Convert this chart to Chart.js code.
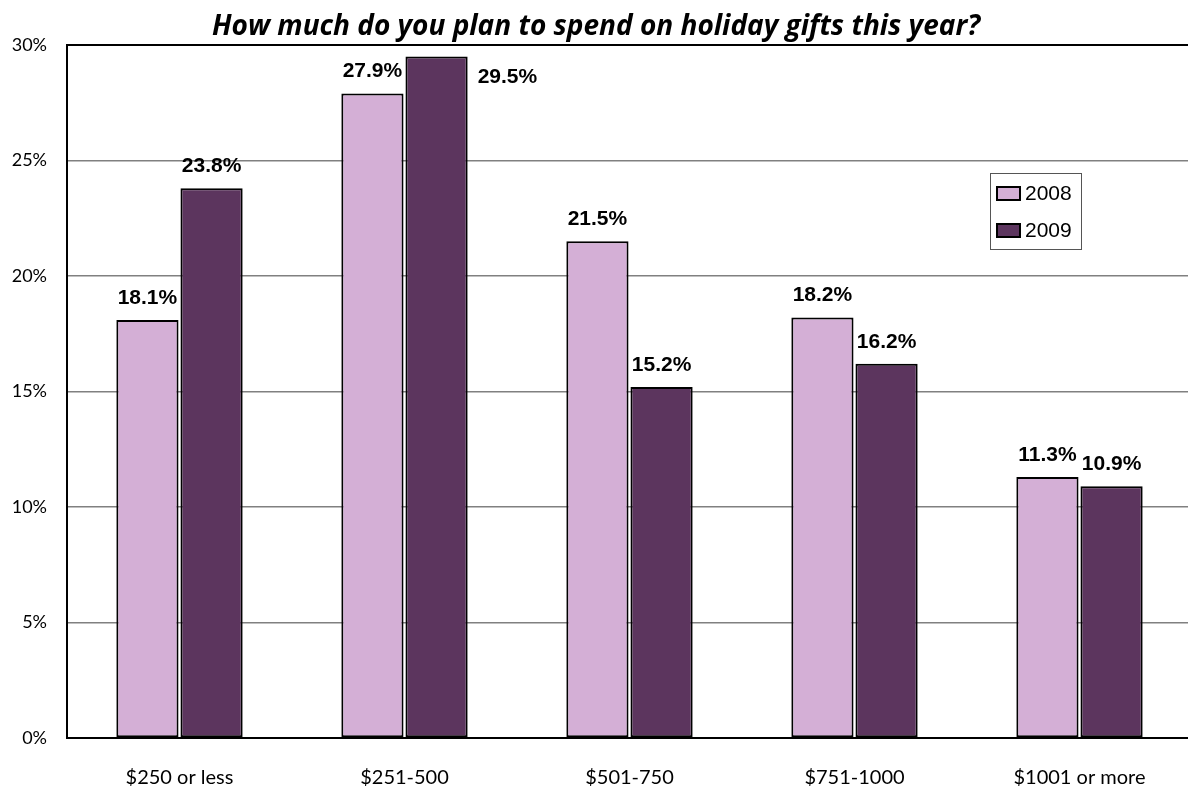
<!DOCTYPE html>
<html>
<head>
<meta charset="utf-8">
<script src="https://cdn.jsdelivr.net/npm/chart.js@4.4.0/dist/chart.umd.min.js"></script>
<style>
  html, body { margin: 0; padding: 0; background: #fff; overflow: hidden; }
  canvas { display: block; }
</style>
</head>
<body>
<canvas id="giftChart" width="1200" height="792"></canvas>
<script>
// spending brackets and survey shares (%)
var brackets = ["$250 or less", "$251-500", "$501-750", "$751-1000", "$1001 or more"];
var share2008 = [18.1, 27.9, 21.5, 18.2, 11.3];
var share2009 = [23.8, 29.5, 15.2, 16.2, 10.9];
var yTicks = [0, 5, 10, 15, 20, 25, 30];

var fillColors = ["#D4AFD6", "#5C355E"];

// value labels over each bar, pushed to the side when there's no room on top
var valueLabels = {
  id: "valueLabels",
  afterDatasetsDraw: function (chart) {
    var ctx = chart.ctx;
    var area = chart.chartArea;
    ctx.save();
    ctx.font = "bold 21px 'Liberation Sans', Arial, sans-serif";
    ctx.fillStyle = "#000";
    ctx.textBaseline = "middle";
    chart.data.datasets.forEach(function (ds, i) {
      var meta = chart.getDatasetMeta(i);
      meta.data.forEach(function (bar, j) {
        var txt = ds.data[j].toFixed(1) + "%";
        var y = bar.y - 22;
        if (y - 10 < area.top) {
          ctx.textAlign = "left";
          ctx.fillText(txt, bar.x + bar.width / 2 + 10, bar.y + 21);
        } else {
          ctx.textAlign = "center";
          ctx.fillText(txt, bar.x, y);
        }
      });
    });
    ctx.restore();
  }
};

// boxed legend inside the plot, right side
var boxLegend = {
  id: "boxLegend",
  afterDraw: function (chart) {
    var ctx = chart.ctx;
    var area = chart.chartArea;
    var left = area.right - 202, top = area.top + 128;
    ctx.save();
    ctx.fillStyle = "#fff";
    ctx.fillRect(left, top, 91, 76);
    ctx.strokeStyle = "#555";
    ctx.lineWidth = 1;
    ctx.strokeRect(left + 0.5, top + 0.5, 91, 76);
    ctx.font = "21px 'Liberation Sans', Arial, sans-serif";
    ctx.textBaseline = "middle";
    ctx.textAlign = "left";
    chart.data.datasets.forEach(function (ds, i) {
      var cy = top + 20 + i * 37;
      ctx.fillStyle = ds.backgroundColor;
      ctx.fillRect(left + 7, cy - 6, 23, 13);
      ctx.strokeStyle = "#000";
      ctx.lineWidth = 2;
      ctx.strokeRect(left + 7, cy - 6, 23, 13);
      ctx.fillStyle = "#000";
      ctx.fillText(ds.label, left + 35, cy + 1);
    });
    ctx.restore();
  }
};

new Chart("giftChart", {
  type: "bar",
  data: {
    labels: brackets,
    datasets: [
      {
        label: "2008",
        data: share2008,
        backgroundColor: fillColors[0],
        borderColor: "#000",
        borderWidth: 2,
        borderSkipped: false
      },
      {
        label: "2009",
        data: share2009,
        backgroundColor: fillColors[1],
        borderColor: "#000",
        borderWidth: 2,
        borderSkipped: false
      }
    ]
  },
  options: {
    responsive: false,
    animation: false,
    layout: { padding: { left: 0, right: 8, top: 0, bottom: 0 } },
    datasets: {
      bar: { categoryPercentage: 0.57, barPercentage: 0.97 }
    },
    plugins: {
      legend: { display: false },
      tooltip: { enabled: false },
      title: {
        display: true,
        text: "How much do you plan to spend on holiday gifts this year?",
        color: "#000",
        font: { family: "'Open Sans', Lato, sans-serif", size: 28, weight: "bold", style: "italic" },
        padding: { top: 10, bottom: 1.4 }
      }
    },
    scales: {
      x: {
        grid: { display: false, drawTicks: false },
        border: { display: true, color: "#000", width: 2 },
        ticks: {
          color: "#000",
          padding: 28,
          maxRotation: 0,
          font: { family: "Lato, 'Open Sans', sans-serif", size: 20 }
        },
        afterFit: function (scale) { scale.height = 54; }
      },
      y: {
        min: 0,
        max: 30,
        afterBuildTicks: function (scale) {
          scale.ticks = yTicks.map(function (v) { return { value: v }; });
        },
        grid: {
          drawTicks: false,
          color: function (c) { return c.tick && c.tick.value === 30 ? "#000" : "#808080"; },
          lineWidth: function (c) { return c.tick && c.tick.value === 30 ? 2 : 1.5; }
        },
        border: { display: true, color: "#000", width: 2 },
        ticks: {
          color: "#000",
          padding: 20,
          font: { family: "Lato, 'Open Sans', sans-serif", size: 18 },
          callback: function (v) { return v + "%"; }
        },
        afterFit: function (scale) { scale.width = 67; }
      }
    }
  },
  plugins: [valueLabels, boxLegend]
});
</script>
</body>
</html>
